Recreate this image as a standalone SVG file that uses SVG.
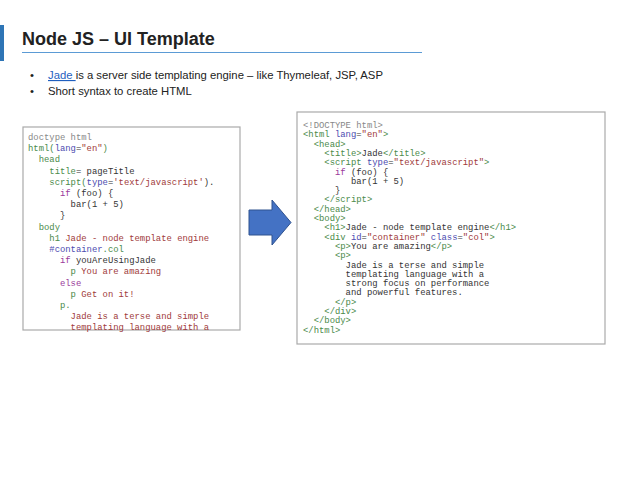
<svg xmlns="http://www.w3.org/2000/svg" width="638" height="479" viewBox="0 0 638 479">
<style>
.c{font-family:"Liberation Mono",monospace;font-size:8.9px;white-space:pre}
.g{fill:#4a8a4a}.b{fill:#4b4bb0}.r{fill:#a03a3a}.k{fill:#333}.p{fill:#9a3a9a}.gr{fill:#888}
.t{font-family:"Liberation Sans",Arial,sans-serif}
.box{fill:#fff;stroke:#aaa;stroke-width:1.2}
</style>
<rect width="638" height="479" fill="#fff"/>
<rect x="0" y="25" width="4" height="36" fill="#2e75b6"/>
<text class="t" x="22" y="45" font-size="18" font-weight="bold" fill="#222">Node JS – UI Template</text>
<line x1="22" y1="52.5" x2="422" y2="52.5" stroke="#5b9bd5" stroke-width="1"/>
<g class="t" font-size="11.3" fill="#222">
<text x="30" y="79">•</text><text x="48" y="79"><tspan fill="#1f5fbf" text-decoration="underline">Jade </tspan>is a server side templating engine – like Thymeleaf, JSP, ASP</text>
<text x="30" y="95">•</text><text x="48" y="95">Short syntax to create HTML</text>
</g>
<g id="jade">
<rect class="box" x="23" y="127" width="217" height="203"/>
<text class="c"><tspan x="28" y="140" class="gr">doctype html</tspan><tspan x="28" y="151.2"><tspan class="g">html(</tspan><tspan class="b">lang</tspan><tspan class="k">=</tspan><tspan class="r">"en"</tspan><tspan class="g">)</tspan></tspan><tspan x="28" y="162.4" class="g">  head</tspan><tspan x="28" y="173.6"><tspan class="g">    title</tspan><tspan class="k">= pageTitle</tspan></tspan><tspan x="28" y="184.8"><tspan class="g">    script(</tspan><tspan class="b">type</tspan><tspan class="k">=</tspan><tspan class="r">'text/javascript'</tspan><tspan class="k">).</tspan></tspan><tspan x="28" y="196"><tspan class="p">      if</tspan><tspan class="k"> (foo) {</tspan></tspan><tspan x="28" y="207.2" class="k">        bar(1 + 5)</tspan><tspan x="28" y="218.4" class="k">      }</tspan><tspan x="28" y="229.6" class="g">  body</tspan><tspan x="28" y="240.8"><tspan class="g">    h1</tspan><tspan class="r"> Jade - node template engine</tspan></tspan><tspan x="28" y="252"><tspan class="b">    #container</tspan><tspan class="g">.col</tspan></tspan><tspan x="28" y="263.2"><tspan class="p">      if</tspan><tspan class="k"> youAreUsingJade</tspan></tspan><tspan x="28" y="274.4"><tspan class="g">        p</tspan><tspan class="r"> You are amazing</tspan></tspan><tspan x="28" y="285.6" class="p">      else</tspan><tspan x="28" y="296.8"><tspan class="g">        p</tspan><tspan class="r"> Get on it!</tspan></tspan><tspan x="28" y="308" class="g">      p.</tspan><tspan x="28" y="319.2" class="r">        Jade is a terse and simple</tspan></text>
<text class="c r"><tspan x="28" y="330.4">        templating language with a</tspan></text>
</g>
<g id="arrow">
<path d="M249,210 H272 V200 L291,222.5 L272,245 V235 H249 Z" fill="#4472c4" stroke="#2f528f" stroke-width="1"/>
</g>
<g id="html">
<rect class="box" x="297" y="112" width="308" height="232"/>
<text class="c"><tspan x="303" y="128" class="gr">&lt;!DOCTYPE html&gt;</tspan><tspan x="303" y="137.3"><tspan class="g">&lt;html </tspan><tspan class="b">lang</tspan><tspan class="k">=</tspan><tspan class="r">"en"</tspan><tspan class="g">&gt;</tspan></tspan><tspan x="303" y="146.6" class="g">  &lt;head&gt;</tspan><tspan x="303" y="155.9"><tspan class="g">    &lt;title&gt;</tspan><tspan class="k">Jade</tspan><tspan class="g">&lt;/title&gt;</tspan></tspan><tspan x="303" y="165.2"><tspan class="g">    &lt;script </tspan><tspan class="b">type</tspan><tspan class="k">=</tspan><tspan class="r">"text/javascript"</tspan><tspan class="g">&gt;</tspan></tspan><tspan x="303" y="174.5"><tspan class="p">      if</tspan><tspan class="k"> (foo) {</tspan></tspan><tspan x="303" y="183.8" class="k">         bar(1 + 5)</tspan><tspan x="303" y="193.1" class="k">      }</tspan><tspan x="303" y="202.4" class="g">    &lt;/script&gt;</tspan><tspan x="303" y="211.7" class="g">  &lt;/head&gt;</tspan><tspan x="303" y="221" class="g">  &lt;body&gt;</tspan><tspan x="303" y="230.3"><tspan class="g">    &lt;h1&gt;</tspan><tspan class="k">Jade - node template engine</tspan><tspan class="g">&lt;/h1&gt;</tspan></tspan><tspan x="303" y="239.6"><tspan class="g">    &lt;div </tspan><tspan class="b">id</tspan><tspan class="k">=</tspan><tspan class="r">"container"</tspan><tspan class="b"> class</tspan><tspan class="k">=</tspan><tspan class="r">"col"</tspan><tspan class="g">&gt;</tspan></tspan><tspan x="303" y="248.9"><tspan class="g">      &lt;p&gt;</tspan><tspan class="k">You are amazing</tspan><tspan class="g">&lt;/p&gt;</tspan></tspan><tspan x="303" y="258.2" class="g">      &lt;p&gt;</tspan><tspan x="303" y="267.5" class="k">        Jade is a terse and simple</tspan><tspan x="303" y="276.8" class="k">        templating language with a</tspan><tspan x="303" y="286.1" class="k">        strong focus on performance</tspan><tspan x="303" y="295.4" class="k">        and powerful features.</tspan><tspan x="303" y="304.7" class="g">      &lt;/p&gt;</tspan><tspan x="303" y="314" class="g">    &lt;/div&gt;</tspan><tspan x="303" y="323.3" class="g">  &lt;/body&gt;</tspan><tspan x="303" y="332.6" class="g">&lt;/html&gt;</tspan></text>
</g>
</svg>
